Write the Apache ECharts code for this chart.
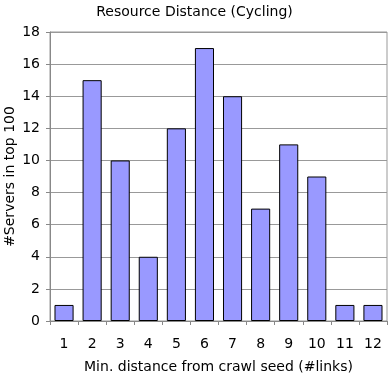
<!DOCTYPE html>
<html><head><meta charset="utf-8">
<script src="https://cdn.jsdelivr.net/npm/echarts@6/dist/echarts.min.js"></script>
<style>html,body{margin:0;padding:0;background:#fff}#c{width:389px;height:380px}</style>
</head><body><div id="c"></div>
<script>
var categories = ['1','2','3','4','5','6','7','8','9','10','11','12'];
var values = [1,15,10,4,12,17,14,7,11,9,1,1];
var yTicks = [0,2,4,6,8,10,12,14,16,18];
var chart = echarts.init(document.getElementById('c'));
var font = 'DejaVu Sans, Liberation Sans, sans-serif';
chart.setOption({
  animation:false,
  title:{text:'Resource Distance (Cycling)',left:'center',top:0,textStyle:{fontFamily:font,fontSize:14,fontWeight:'normal',color:'#000'}},
  grid:{left:50,right:2,top:32,bottom:59,show:true,borderColor:'#999',borderWidth:1,containLabel:false,outerBoundsMode:'none'},
  xAxis:{type:'category',data:categories,name:'Min. distance from crawl seed (#links)',nameLocation:'middle',nameGap:39,nameMoveOverlap:false,
    nameTextStyle:{fontFamily:font,fontSize:14,color:'#000'},
    axisLine:{lineStyle:{color:'#888'}},axisTick:{show:true,length:4,lineStyle:{color:'#888'}},
    axisLabel:{fontFamily:font,fontSize:14,color:'#000',margin:16}},
  yAxis:{type:'value',min:yTicks[0],max:yTicks[yTicks.length-1],interval:2,name:'#Servers in top 100',nameLocation:'middle',nameGap:33,nameMoveOverlap:false,
    nameTextStyle:{fontFamily:font,fontSize:14,color:'#000'},
    axisLine:{show:true,lineStyle:{color:'#888'}},axisTick:{show:true,length:4,lineStyle:{color:'#888'}},
    axisLabel:{fontFamily:font,fontSize:14,color:'#000',margin:10},
    splitLine:{lineStyle:{color:'#999'}}},
  series:[{type:'bar',data:values,barWidth:'68%',itemStyle:{color:'#9999ff',borderColor:'#000',borderWidth:1}}]
});
</script></body></html>
